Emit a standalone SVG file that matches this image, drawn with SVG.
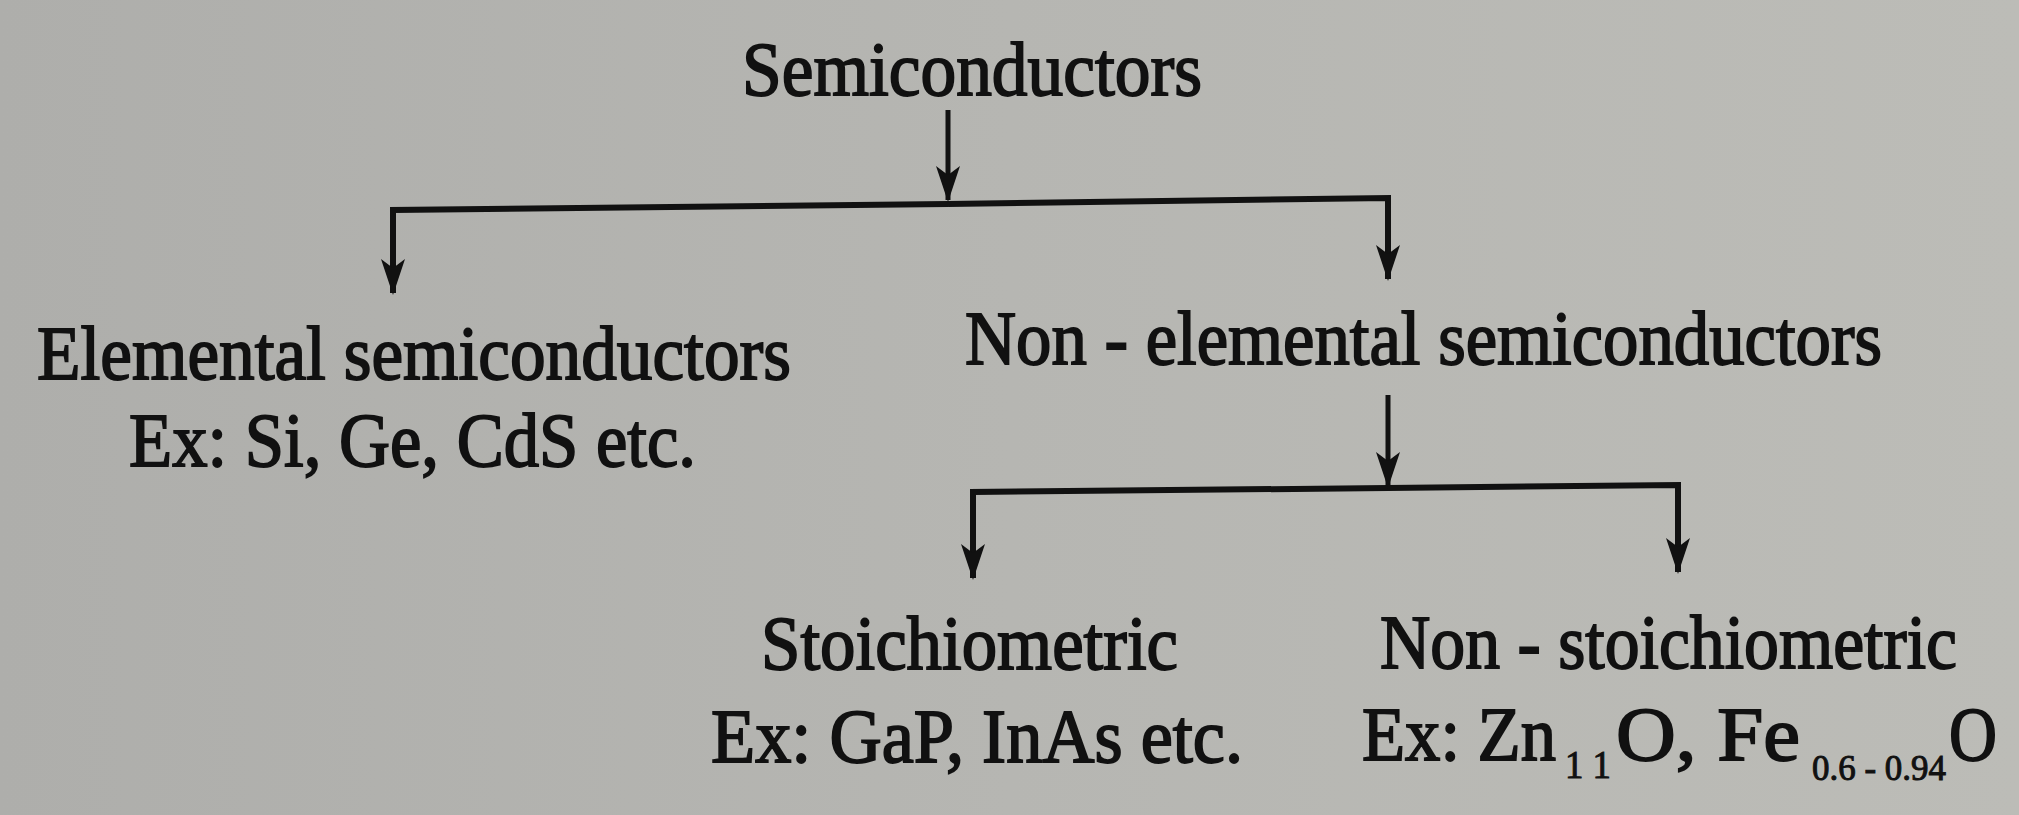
<svg xmlns="http://www.w3.org/2000/svg" width="2019" height="815" viewBox="0 0 2019 815">
<defs>
<linearGradient id="bg" x1="0" y1="0" x2="1" y2="0">
<stop offset="0" stop-color="#aeaeab"/>
<stop offset="0.5" stop-color="#b6b6b2"/>
<stop offset="1" stop-color="#bcbcb7"/>
</linearGradient>
<marker id="ah" markerUnits="userSpaceOnUse" markerWidth="38" markerHeight="26" refX="34" refY="12" orient="auto">
<path d="M0,0 L36,12 L0,24 L9,12 Z" fill="#111"/>
</marker>
<style>
.t{font-family:"Liberation Serif","Times New Roman",serif;font-size:76px;fill:#111;stroke:#111;stroke-width:1.8}
.c{fill:none;stroke:#111;stroke-width:6;stroke-linejoin:miter}
.a{fill:none;stroke:#111;stroke-width:5}
</style>
</defs>
<rect width="2019" height="815" fill="url(#bg)"/>
<g id="connectors">
<line class="a" x1="948" y1="110" x2="948" y2="200" marker-end="url(#ah)"/>
<path class="c" d="M948,204 L393,210 L393,293" marker-end="url(#ah)"/>
<path class="c" d="M948,204 L1388,198 L1388,279" marker-end="url(#ah)"/>
<line class="a" x1="1388" y1="395" x2="1388" y2="486" marker-end="url(#ah)"/>
<path class="c" d="M1388,488 L973,492 L973,578" marker-end="url(#ah)"/>
<path class="c" d="M1388,488 L1678,485 L1678,572" marker-end="url(#ah)"/>
</g>
<g id="semiconductors">
<text class="t" x="742" y="95" textLength="460" lengthAdjust="spacingAndGlyphs">Semiconductors</text>
</g>
<g id="elemental">
<text class="t" x="37" y="379" textLength="754" lengthAdjust="spacingAndGlyphs">Elemental semiconductors</text>
<text class="t" x="129" y="466" textLength="567" lengthAdjust="spacingAndGlyphs">Ex: Si, Ge, CdS etc.</text>
</g>
<g id="non-elemental">
<text class="t" x="965" y="364" textLength="917" lengthAdjust="spacingAndGlyphs">Non - elemental semiconductors</text>
</g>
<g id="stoichiometric">
<text class="t" x="761" y="669" textLength="417" lengthAdjust="spacingAndGlyphs">Stoichiometric</text>
<text class="t" x="711" y="762" textLength="532" lengthAdjust="spacingAndGlyphs">Ex: GaP, InAs etc.</text>
</g>
<g id="non-stoichiometric">
<text class="t" x="1380" y="668" textLength="577" lengthAdjust="spacingAndGlyphs">Non - stoichiometric</text>
<text class="t" y="760"><tspan x="1362" textLength="194" lengthAdjust="spacingAndGlyphs">Ex: Zn</tspan><tspan x="1565" dy="18" font-size="40" stroke-width="1" textLength="46" lengthAdjust="spacingAndGlyphs">1 1</tspan><tspan x="1616" dy="-18" textLength="184" lengthAdjust="spacingAndGlyphs">O, Fe</tspan><tspan x="1812" dy="20" font-size="36" stroke-width="1" textLength="134" lengthAdjust="spacingAndGlyphs">0.6 - 0.94</tspan><tspan x="1949" dy="-20" textLength="48" lengthAdjust="spacingAndGlyphs">O</tspan></text>
</g>
</svg>
